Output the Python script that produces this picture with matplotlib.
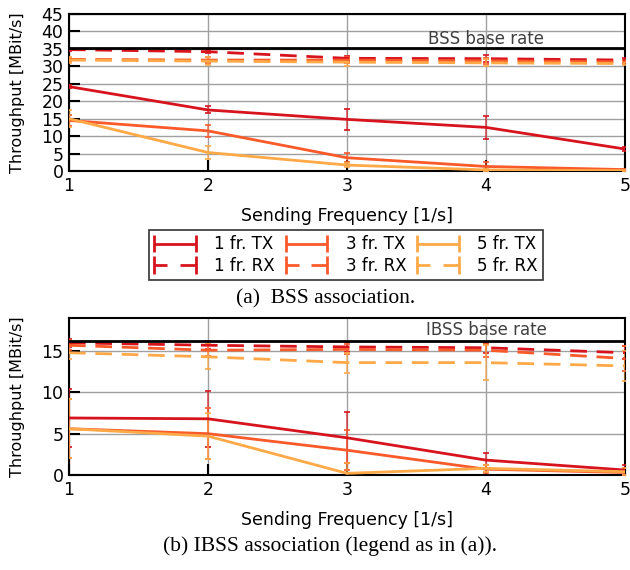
import matplotlib
matplotlib.use("Agg")
import matplotlib.pyplot as plt
from matplotlib.legend_handler import HandlerBase
from matplotlib.lines import Line2D

freq = [1, 2, 3, 4, 5]
labels = ["1 fr. TX", "1 fr. RX", "3 fr. TX", "3 fr. RX", "5 fr. TX", "5 fr. RX"]
colors = ["#d7141e", "#d7141e", "#fa5a2a", "#fa5a2a", "#fea948", "#fea948"]
styles = ["-", "--", "-", "--", "-", "--"]

# (a) BSS association
bss_mean = [
    [24.2, 17.5, 14.8, 12.5, 6.3],
    [34.8, 34.2, 32.3, 32.2, 31.8],
    [14.5, 11.5, 3.8, 1.3, 0.4],
    [32.0, 31.8, 31.8, 31.6, 31.3],
    [15.0, 5.3, 1.7, 0.3, 0.1],
    [31.8, 31.5, 31.2, 31.0, 30.8],
]
bss_err = [
    [0.4, 1.0, 3.0, 3.2, 0.6],
    [0.3, 0.5, 0.8, 1.0, 0.5],
    [1.5, 1.7, 1.3, 1.3, 0.3],
    [0.5, 0.8, 0.8, 0.8, 0.5],
    [2.5, 2.0, 0.5, 0.3, 0.1],
    [0.8, 1.2, 1.0, 1.0, 0.5],
]
bss_base = 35.3

# (b) IBSS association
ibss_mean = [
    [6.9, 6.8, 4.5, 1.8, 0.6],
    [16.0, 15.7, 15.5, 15.4, 14.8],
    [5.6, 5.0, 3.0, 0.7, 0.3],
    [15.7, 15.1, 15.2, 15.1, 14.1],
    [5.6, 4.7, 0.2, 0.8, 0.4],
    [14.8, 14.3, 13.6, 13.6, 13.2],
]
ibss_err = [
    [3.5, 3.4, 3.1, 0.9, 0.6],
    [0.5, 0.5, 0.6, 0.6, 0.8],
    [3.6, 3.1, 2.4, 0.5, 0.5],
    [0.6, 0.7, 0.6, 0.8, 1.5],
    [3.6, 2.8, 1.2, 0.4, 0.4],
    [0.8, 1.5, 1.2, 2.1, 1.8],
]
ibss_base = 16.2

plt.rcParams["font.family"] = "DejaVu Sans"


class KeyProxy:
    def __init__(self, color, ls):
        self.color = color
        self.ls = ls


class HandlerHBar(HandlerBase):
    # gnuplot style key: horizontal bar with vertical end caps
    def create_artists(self, legend, orig, xdescent, ydescent, width, height, fontsize, trans):
        x0 = -xdescent
        x1 = x0 + width
        y = height / 2 - ydescent
        cap = height * 0.75
        kw = dict(color=orig.color, lw=2.0, transform=trans, solid_capstyle="butt")
        arts = [Line2D([x0, x0], [y - cap, y + cap], **kw),
                Line2D([x1, x1], [y - cap, y + cap], **kw)]
        if orig.ls == "--":
            arts.append(Line2D([x0, x0 + 0.32 * width], [y, y], **kw))
            arts.append(Line2D([x0 + 0.62 * width, x1], [y, y], **kw))
        else:
            arts.append(Line2D([x0, x1], [y, y], **kw))
        return arts


def draw(ax, means, errs, base, base_label, text_y, ylim, yticks):
    for m, e, c, ls, lab in zip(means, errs, colors, styles, labels):
        h = ax.errorbar(freq, m, yerr=e, color=c, ls=ls, lw=2.0,
                        dashes=(6, 3.5) if ls == "--" else (None, None),
                        elinewidth=1.2, capsize=2, capthick=1.2, ecolor=c, zorder=3)
        for bar in h[2]:
            bar.set_alpha(0.7)
    ax.axhline(base, color="black", lw=2, zorder=4)
    ax.text(4.0, text_y, base_label, ha="center", va="center", fontsize=12, color="#404040")
    ax.set_xlim(1, 5)
    ax.set_ylim(*ylim)
    ax.set_xticks(freq)
    ax.set_yticks(yticks)
    ax.grid(True, color="#a0a0a0", lw=1)
    ax.set_axisbelow(True)
    ax.tick_params(direction="in", length=8, width=1.5, labelsize=12.5, pad=4)
    for s in ax.spines.values():
        s.set_linewidth(1.5)
    ax.set_xlabel("Sending Frequency [1/s]", fontsize=12.5, labelpad=9)
    ax.set_ylabel("Throughput [MBit/s]", fontsize=11.5, labelpad=12)


fig = plt.figure(figsize=(6.3, 5.7), dpi=100)
ax1 = fig.add_axes([0.1095, 0.70, 0.8825, 0.2754])
ax2 = fig.add_axes([0.1095, 0.1667, 0.8825, 0.2754])

draw(ax1, bss_mean, bss_err, bss_base, "BSS base rate", 37.7, (0, 45), range(0, 46, 5))
draw(ax2, ibss_mean, ibss_err, ibss_base, "IBSS base rate", 17.5, (0, 19), range(0, 16, 5))

proxies = [KeyProxy(c, ls) for c, ls in zip(colors, styles)]
leg = fig.legend(handles=proxies, labels=labels, ncol=3, loc="center",
                 handler_map={KeyProxy: HandlerHBar()},
                 bbox_to_anchor=(0.549, 0.5526), fontsize=12, frameon=True, fancybox=False,
                 edgecolor="black", handlelength=2.5, handleheight=0.7, columnspacing=0.65,
                 handletextpad=1.1, borderpad=0.3, labelspacing=0.2)
leg.get_frame().set_linewidth(1.2)

fig.text(0.516, 0.476, "(a)  BSS association.", ha="center", va="center",
         family="Liberation Serif", fontsize=15.5)
fig.text(0.524, 0.042, "(b) IBSS association (legend as in (a)).", ha="center", va="center",
         family="Liberation Serif", fontsize=15.5)

fig.savefig("out.png", dpi=100)
